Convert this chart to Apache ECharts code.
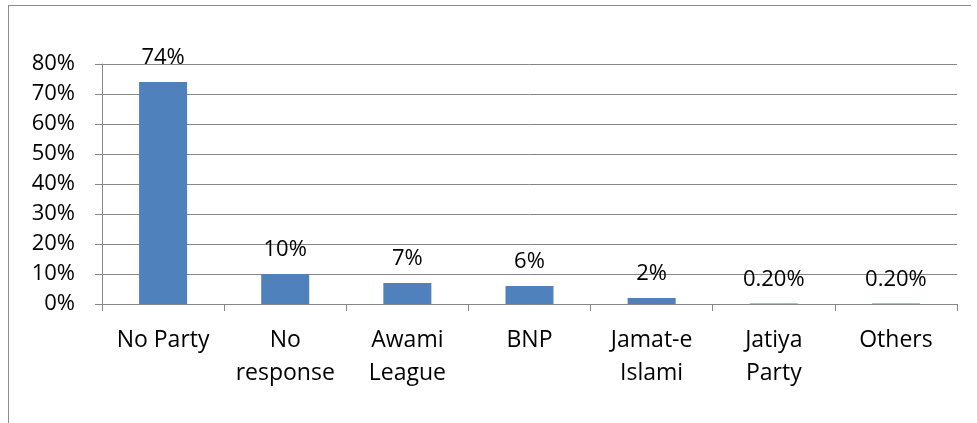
<!DOCTYPE html>
<html>
<head>
<meta charset="utf-8">
<script src="https://cdn.jsdelivr.net/npm/echarts@6/dist/echarts.min.js"></script>
<style>
  html, body { margin: 0; padding: 0; background: #fff; }
  #frame {
    position: absolute; left: 8px; top: 5px; width: 962px; height: 430px;
    border-left: 1px solid #8c8c8c; border-top: 1px solid #8c8c8c;
  }
  #chart { position: absolute; left: 0; top: 0; width: 977px; height: 423px; }
</style>
</head>
<body>
<div id="frame"></div>
<div id="chart"></div>
<script>
const categories = ['No Party', 'No\nresponse', 'Awami\nLeague', 'BNP', 'Jamat-e\nIslami', 'Jatiya\nParty', 'Others'];
const values = [74, 10, 7, 6, 2, 0.2, 0.2];
const valueLabels = ['74%', '10%', '7%', '6%', '2%', '0.20%', '0.20%'];
const yTicks = { min: 0, max: 80, interval: 10 };

const fontFamily = '"Open Sans", Lato, sans-serif';
const lineColor = '#868686';

const chart = echarts.init(document.getElementById('chart'));

chart.setOption({
  animation: false,
  grid: { left: 102, right: 20, top: 64, bottom: 119 },
  xAxis: {
    type: 'category',
    data: categories,
    axisLine: { lineStyle: { color: lineColor, width: 1 } },
    axisTick: { show: true, length: 7, lineStyle: { color: lineColor } },
    axisLabel: {
      color: '#000', fontSize: 23, fontFamily: fontFamily,
      margin: 20, lineHeight: 33, interval: 0
    }
  },
  yAxis: {
    type: 'value',
    min: yTicks.min,
    max: yTicks.max,
    interval: yTicks.interval,
    axisLine: { show: true, lineStyle: { color: lineColor, width: 1 } },
    axisTick: { show: true, length: 7, lineStyle: { color: lineColor } },
    splitLine: { lineStyle: { color: lineColor, width: 1 } },
    axisLabel: {
      color: '#000', fontSize: 22, fontFamily: fontFamily,
      margin: 27, formatter: '{value}%'
    }
  },
  series: [{
    type: 'bar',
    data: values,
    barWidth: 48,
    itemStyle: { color: '#4f81bd' },
    label: {
      show: true,
      position: 'top',
      distance: 13,
      color: '#000',
      fontSize: 22,
      fontFamily: fontFamily,
      formatter: (p) => valueLabels[p.dataIndex]
    }
  }]
});
</script>
</body>
</html>
